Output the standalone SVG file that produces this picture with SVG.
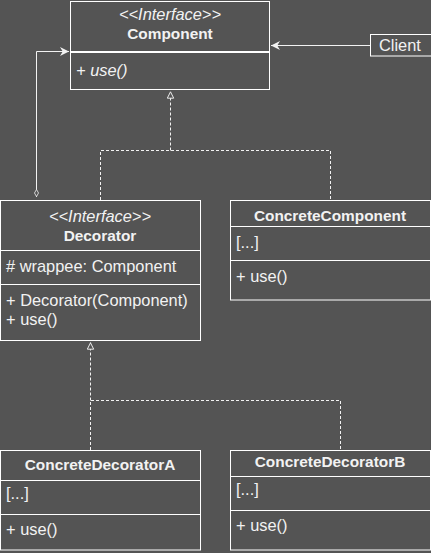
<svg xmlns="http://www.w3.org/2000/svg" width="431" height="553" viewBox="0 0 431 553">
<style>
.bg{fill:#545454}
.box{fill:none;stroke:#ffffff;stroke-width:1}
.t{font-family:"Liberation Sans",Arial,sans-serif;font-size:16.4px;fill:#f2f2f2}
.b{font-weight:bold;font-size:15.4px}
.i{font-style:italic;font-size:16.4px}
.c{text-anchor:middle}
.ln{fill:none;stroke:#f2f2f2;stroke-width:1}
.dash{fill:none;stroke:#f2f2f2;stroke-width:1;stroke-dasharray:3 2}
</style>
<defs>
<marker id="arrow" viewBox="0 0 10 10" refX="10" refY="5" markerWidth="9" markerHeight="9" markerUnits="userSpaceOnUse" orient="auto">
<path d="M0,0 L10,5 L0,10 L3,5 z" fill="#f2f2f2"/>
</marker>
<marker id="diamond" viewBox="0 0 10 6" refX="0" refY="3" markerWidth="8" markerHeight="5" markerUnits="userSpaceOnUse" orient="auto">
<path d="M0.5,3 L5,0.5 L9.5,3 L5,5.5 z" fill="#545454" stroke="#f2f2f2" stroke-width="1"/>
</marker>
<marker id="tri" viewBox="0 0 10 10" refX="10" refY="5" markerWidth="8" markerHeight="8" markerUnits="userSpaceOnUse" orient="auto">
<path d="M1,1 L9,5 L1,9 z" fill="#545454" stroke="#f2f2f2" stroke-width="1.2"/>
</marker>
</defs>
<rect class="bg" x="0" y="0" width="431" height="553"/>

<g id="connectors">
<path class="ln" d="M370,45.5 H271" marker-end="url(#arrow)"/>
<path class="ln" d="M36.5,197 V51.5 H69" marker-start="url(#diamond)" marker-end="url(#arrow)"/>
<path class="dash" d="M170.5,150.5 V91" marker-end="url(#tri)"/>
<path class="dash" d="M100.5,200 V150.5 H330.5 V200"/>
<path class="dash" d="M90.5,400.5 V342" marker-end="url(#tri)"/>
<path class="dash" d="M90.5,450 V400.5 H340.5 V450"/>
</g>

<g id="component">
<rect class="box" x="70.5" y="1.5" width="199" height="88"/>
<line x1="70" y1="52" x2="270" y2="52" stroke="#ffffff" stroke-width="2"/>
<text class="t i c" x="170" y="20">&lt;&lt;Interface&gt;&gt;</text>
<text class="t b c" x="170" y="38.5">Component</text>
<text class="t i" x="76" y="76">+ use()</text>
</g>

<g id="client">
<rect class="box" x="370.5" y="34.5" width="62" height="21.5"/>
<text class="t" x="379" y="51">Client</text>
</g>

<g id="decorator">
<rect class="box" x="0.5" y="200.5" width="200" height="140"/>
<line class="box" x1="0" y1="250.5" x2="201" y2="250.5"/>
<line class="box" x1="0" y1="284.5" x2="201" y2="284.5"/>
<text class="t i c" x="100" y="221.5">&lt;&lt;Interface&gt;&gt;</text>
<text class="t b c" x="100" y="240.5">Decorator</text>
<text class="t" x="6" y="272"># wrappee: Component</text>
<text class="t" x="6" y="306">+ Decorator(Component)</text>
<text class="t" x="6" y="325">+ use()</text>
</g>

<g id="concreteComponent">
<rect class="box" x="230.5" y="200.5" width="200" height="99.5"/>
<line class="box" x1="230" y1="226.5" x2="431" y2="226.5"/>
<line class="box" x1="230" y1="260.5" x2="431" y2="260.5"/>
<text class="t b c" x="330" y="221">ConcreteComponent</text>
<text class="t" x="236" y="248">[...]</text>
<text class="t" x="236" y="282">+ use()</text>
</g>

<g id="concreteDecoratorA">
<rect class="box" x="0.5" y="450.5" width="200" height="99.5"/>
<line class="box" x1="0" y1="480.5" x2="201" y2="480.5"/>
<line class="box" x1="0" y1="514.5" x2="201" y2="514.5"/>
<text class="t b c" x="100" y="470">ConcreteDecoratorA</text>
<text class="t" x="6" y="499">[...]</text>
<text class="t" x="6" y="535">+ use()</text>
</g>

<g id="concreteDecoratorB">
<rect class="box" x="230.5" y="450.5" width="200" height="99.5"/>
<line class="box" x1="230" y1="476.5" x2="431" y2="476.5"/>
<line class="box" x1="230" y1="510.5" x2="431" y2="510.5"/>
<text class="t b c" x="330" y="467">ConcreteDecoratorB</text>
<text class="t" x="236" y="495">[...]</text>
<text class="t" x="236" y="531">+ use()</text>
</g>
</svg>
